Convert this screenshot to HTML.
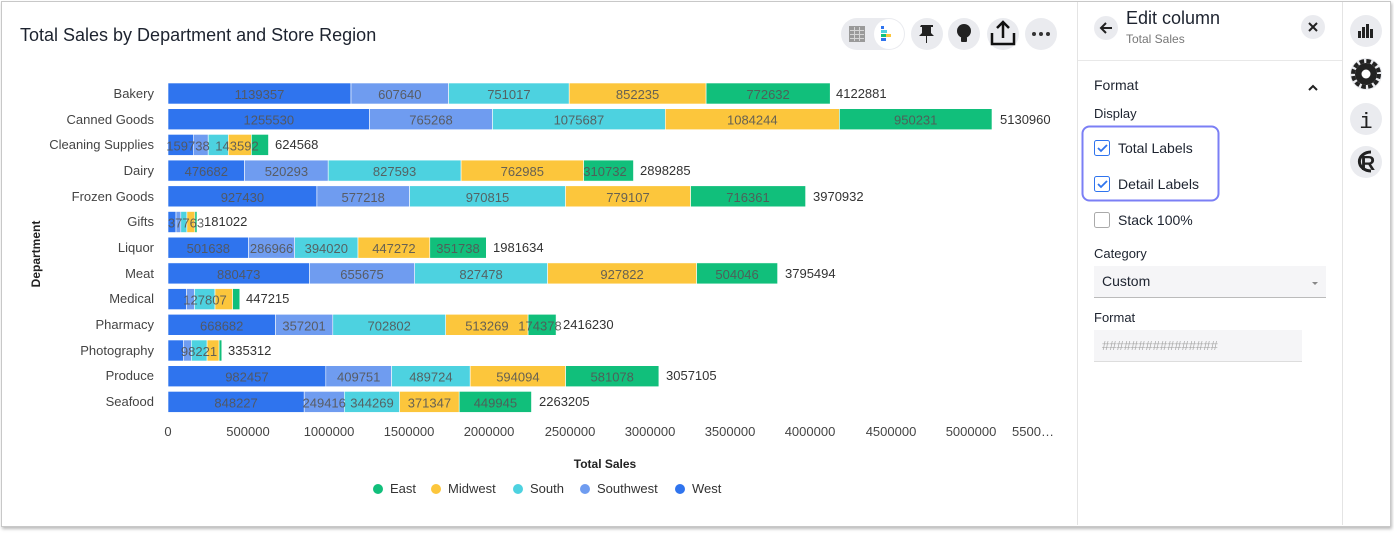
<!DOCTYPE html><html><head><style>
body{margin:0;width:1394px;height:533px;background:#fff;font-family:"Liberation Sans",sans-serif;overflow:hidden;position:relative}
.frame{position:absolute;left:1px;top:1px;width:1388px;height:524px;border:1px solid #c8c8c8;box-shadow:1px 2px 3px #bbb;background:#fff}
.a{position:absolute}
</style></head><body><div class="frame"></div>
<svg class="a" style="left:0;top:0" width="1394" height="533" font-family="Liberation Sans, sans-serif">
<text x="20" y="41" font-size="18" fill="#1d232f">Total Sales by Department and Store Region</text>
<rect x="841" y="18" width="64" height="32" rx="16" fill="#eaebef"/>
<circle cx="889" cy="34" r="15" fill="#fff"/>
<rect x="849" y="26" width="16" height="16" fill="#9a9a9a"/>
<g fill="#d6d6d6"><rect x="850" y="30" width="14" height="1"/><rect x="850" y="34" width="14" height="1"/><rect x="850" y="38" width="14" height="1"/><rect x="854" y="27" width="1" height="14"/><rect x="859" y="27" width="1" height="14"/></g>
<rect x="881" y="26" width="3" height="3" fill="#2f74ee"/><rect x="881" y="30" width="6" height="3" fill="#4dd2e0"/><rect x="881" y="34" width="9" height="3" fill="#11bf7b"/><rect x="881" y="38" width="5" height="3" fill="#2f74ee"/><rect x="886" y="34" width="5" height="3" fill="#fcc63c"/>
<circle cx="927" cy="34" r="16" fill="#eaebef"/><path d="M921 25h12v2h-2v6l3 3h-7v7h-1v-7h-7l3-3v-6h-2z" fill="#222"/>
<circle cx="964" cy="34" r="16" fill="#eaebef"/><circle cx="964" cy="31" r="7" fill="#222"/><rect x="961" y="37" width="6" height="5" rx="1" fill="#222"/>
<circle cx="1003" cy="34" r="16" fill="#eaebef"/><path d="M992 33v11h22v-11M1003 22v16M997 28l6-6 6 6" stroke="#111" stroke-width="2.5" fill="none"/>
<circle cx="1041" cy="34" r="16" fill="#eaebef"/><g fill="#333"><circle cx="1034" cy="34" r="2"/><circle cx="1041" cy="34" r="2"/><circle cx="1048" cy="34" r="2"/></g>
<g font-size="13" fill="#444" text-anchor="end">
<text x="154" y="98">Bakery</text><text x="154" y="124">Canned Goods</text><text x="154" y="149">Cleaning Supplies</text><text x="154" y="175">Dairy</text><text x="154" y="201">Frozen Goods</text><text x="154" y="226">Gifts</text><text x="154" y="252">Liquor</text><text x="154" y="278">Meat</text><text x="154" y="303">Medical</text><text x="154" y="329">Pharmacy</text><text x="154" y="355">Photography</text><text x="154" y="380">Produce</text><text x="154" y="406">Seafood</text>
</g>
<text transform="translate(40,254) rotate(-90)" font-size="12" font-weight="bold" fill="#222" text-anchor="middle">Department</text>
<g stroke="#fff" stroke-width="0.6">
<rect x="168" y="83" width="183" height="21" fill="#2f74ee"/><rect x="351" y="83" width="97.6" height="21" fill="#6f9cf0"/><rect x="448.6" y="83" width="120.6" height="21" fill="#4dd2e0"/><rect x="569.2" y="83" width="136.9" height="21" fill="#fcc63c"/><rect x="706.1" y="83" width="124.1" height="21" fill="#11bf7b"/>
<rect x="168" y="108.7" width="201.6" height="21" fill="#2f74ee"/><rect x="369.6" y="108.7" width="122.9" height="21" fill="#6f9cf0"/><rect x="492.5" y="108.7" width="172.8" height="21" fill="#4dd2e0"/><rect x="665.3" y="108.7" width="174.1" height="21" fill="#fcc63c"/><rect x="839.4" y="108.7" width="152.6" height="21" fill="#11bf7b"/>
<rect x="168" y="134.4" width="25.7" height="21" fill="#2f74ee"/><rect x="193.7" y="134.4" width="14.5" height="21" fill="#6f9cf0"/><rect x="208.2" y="134.4" width="20.1" height="21" fill="#4dd2e0"/><rect x="228.3" y="134.4" width="23.1" height="21" fill="#fcc63c"/><rect x="251.4" y="134.4" width="17.1" height="21" fill="#11bf7b"/>
<rect x="168" y="160.1" width="76.6" height="21" fill="#2f74ee"/><rect x="244.6" y="160.1" width="83.6" height="21" fill="#6f9cf0"/><rect x="328.2" y="160.1" width="132.9" height="21" fill="#4dd2e0"/><rect x="461.1" y="160.1" width="122.5" height="21" fill="#fcc63c"/><rect x="583.6" y="160.1" width="49.9" height="21" fill="#11bf7b"/>
<rect x="168" y="185.8" width="148.9" height="21" fill="#2f74ee"/><rect x="316.9" y="185.8" width="92.7" height="21" fill="#6f9cf0"/><rect x="409.6" y="185.8" width="155.9" height="21" fill="#4dd2e0"/><rect x="565.5" y="185.8" width="125.1" height="21" fill="#fcc63c"/><rect x="690.6" y="185.8" width="115" height="21" fill="#11bf7b"/>
<rect x="168" y="211.5" width="8" height="21" fill="#2f74ee"/><rect x="176" y="211.5" width="4.8" height="21" fill="#6f9cf0"/><rect x="180.8" y="211.5" width="6.1" height="21" fill="#4dd2e0"/><rect x="186.9" y="211.5" width="8" height="21" fill="#fcc63c"/><rect x="194.9" y="211.5" width="2.1" height="21" fill="#11bf7b"/>
<rect x="168" y="237.2" width="80.6" height="21" fill="#2f74ee"/><rect x="248.6" y="237.2" width="46.1" height="21" fill="#6f9cf0"/><rect x="294.7" y="237.2" width="63.3" height="21" fill="#4dd2e0"/><rect x="358" y="237.2" width="71.8" height="21" fill="#fcc63c"/><rect x="429.8" y="237.2" width="56.5" height="21" fill="#11bf7b"/>
<rect x="168" y="262.9" width="141.4" height="21" fill="#2f74ee"/><rect x="309.4" y="262.9" width="105.3" height="21" fill="#6f9cf0"/><rect x="414.7" y="262.9" width="132.9" height="21" fill="#4dd2e0"/><rect x="547.6" y="262.9" width="149" height="21" fill="#fcc63c"/><rect x="696.6" y="262.9" width="81" height="21" fill="#11bf7b"/>
<rect x="168" y="288.6" width="18.5" height="21" fill="#2f74ee"/><rect x="186.5" y="288.6" width="8" height="21" fill="#6f9cf0"/><rect x="194.5" y="288.6" width="20.5" height="21" fill="#4dd2e0"/><rect x="215" y="288.6" width="17.7" height="21" fill="#fcc63c"/><rect x="232.7" y="288.6" width="7.1" height="21" fill="#11bf7b"/>
<rect x="168" y="314.3" width="107.4" height="21" fill="#2f74ee"/><rect x="275.4" y="314.3" width="57.4" height="21" fill="#6f9cf0"/><rect x="332.8" y="314.3" width="112.9" height="21" fill="#4dd2e0"/><rect x="445.7" y="314.3" width="82.4" height="21" fill="#fcc63c"/><rect x="528.1" y="314.3" width="28" height="21" fill="#11bf7b"/>
<rect x="168" y="340" width="15.3" height="21" fill="#2f74ee"/><rect x="183.3" y="340" width="8" height="21" fill="#6f9cf0"/><rect x="191.3" y="340" width="15.8" height="21" fill="#4dd2e0"/><rect x="207.1" y="340" width="12" height="21" fill="#fcc63c"/><rect x="219.1" y="340" width="2.7" height="21" fill="#11bf7b"/>
<rect x="168" y="365.7" width="157.8" height="21" fill="#2f74ee"/><rect x="325.8" y="365.7" width="65.8" height="21" fill="#6f9cf0"/><rect x="391.6" y="365.7" width="78.6" height="21" fill="#4dd2e0"/><rect x="470.2" y="365.7" width="95.4" height="21" fill="#fcc63c"/><rect x="565.6" y="365.7" width="93.3" height="21" fill="#11bf7b"/>
<rect x="168" y="391.4" width="136.2" height="21" fill="#2f74ee"/><rect x="304.2" y="391.4" width="40.1" height="21" fill="#6f9cf0"/><rect x="344.3" y="391.4" width="55.3" height="21" fill="#4dd2e0"/><rect x="399.6" y="391.4" width="59.6" height="21" fill="#fcc63c"/><rect x="459.2" y="391.4" width="72.3" height="21" fill="#11bf7b"/>
</g>
<g font-size="13" fill="#555" fill-opacity="0.9" text-anchor="middle">
<text x="259.5" y="99">1139357</text><text x="399.8" y="99">607640</text><text x="508.9" y="99">751017</text><text x="637.6" y="99">852235</text><text x="768.1" y="99">772632</text>
<text x="268.8" y="124.7">1255530</text><text x="431" y="124.7">765268</text><text x="578.9" y="124.7">1075687</text><text x="752.3" y="124.7">1084244</text><text x="915.7" y="124.7">950231</text>
<text x="188" y="150.4">159738</text><text x="237" y="150.4">143592</text>
<text x="206.3" y="176.1">476682</text><text x="286.4" y="176.1">520293</text><text x="394.6" y="176.1">827593</text><text x="522.3" y="176.1">762985</text><text x="605" y="176.1">310732</text>
<text x="242.4" y="201.8">927430</text><text x="363.2" y="201.8">577218</text><text x="487.5" y="201.8">970815</text><text x="628" y="201.8">779107</text><text x="748" y="201.8">716361</text>
<text x="186" y="227.5">37763</text>
<text x="208.3" y="253.2">501638</text><text x="271.6" y="253.2">286966</text><text x="326.3" y="253.2">394020</text><text x="393.9" y="253.2">447272</text><text x="458" y="253.2">351738</text>
<text x="238.7" y="278.9">880473</text><text x="362" y="278.9">655675</text><text x="481.1" y="278.9">827478</text><text x="622.1" y="278.9">927822</text><text x="737.1" y="278.9">504046</text>
<text x="205" y="304.6">127807</text>
<text x="221.7" y="330.3">668682</text><text x="304.1" y="330.3">357201</text><text x="389.2" y="330.3">702802</text><text x="486.9" y="330.3">513269</text><text x="540" y="330.3">174378</text>
<text x="199" y="356">98221</text>
<text x="246.9" y="381.7">982457</text><text x="358.7" y="381.7">409751</text><text x="430.9" y="381.7">489724</text><text x="517.9" y="381.7">594094</text><text x="612.2" y="381.7">581078</text>
<text x="236.1" y="407.4">848227</text><text x="324.2" y="407.4">249416</text><text x="372" y="407.4">344269</text><text x="429.4" y="407.4">371347</text><text x="495.4" y="407.4">449945</text>
</g>
<g font-size="13" fill="#333">
<text x="836" y="98">4122881</text><text x="1000" y="124">5130960</text><text x="275" y="149">624568</text><text x="640" y="175">2898285</text><text x="813" y="201">3970932</text><text x="204" y="226">181022</text><text x="493" y="252">1981634</text><text x="785" y="278">3795494</text><text x="246" y="303">447215</text><text x="563" y="329">2416230</text><text x="228" y="355">335312</text><text x="666" y="380">3057105</text><text x="539" y="406">2263205</text>
</g>
<g font-size="13" fill="#444" text-anchor="middle">
<text x="168" y="436">0</text><text x="248" y="436">500000</text><text x="329" y="436">1000000</text><text x="409" y="436">1500000</text><text x="489" y="436">2000000</text><text x="570" y="436">2500000</text><text x="650" y="436">3000000</text><text x="730" y="436">3500000</text><text x="810" y="436">4000000</text><text x="891" y="436">4500000</text><text x="971" y="436">5000000</text><text x="1033" y="436">5500…</text>
</g>
<text x="605" y="468" font-size="12" font-weight="bold" fill="#222" text-anchor="middle">Total Sales</text>
<g font-size="13" fill="#333">
<circle cx="378" cy="489" r="5" fill="#11bf7b"/><text x="390" y="493">East</text>
<circle cx="436" cy="489" r="5" fill="#fcc63c"/><text x="448" y="493">Midwest</text>
<circle cx="518" cy="489" r="5" fill="#4dd2e0"/><text x="530" y="493">South</text>
<circle cx="585" cy="489" r="5" fill="#6f9cf0"/><text x="597" y="493">Southwest</text>
<circle cx="680" cy="489" r="5" fill="#2f74ee"/><text x="692" y="493">West</text>
</g>
<line x1="1077.5" y1="2" x2="1077.5" y2="525" stroke="#e4e4e4"/>
<line x1="1342.5" y1="2" x2="1342.5" y2="525" stroke="#e4e4e4"/>
<line x1="1078" y1="60.5" x2="1342" y2="60.5" stroke="#e8e8e8"/>
<circle cx="1106" cy="28" r="12" fill="#eaebef"/><path d="M1112 28h-11M1106 23l-5 5 5 5" stroke="#222" stroke-width="2" fill="none"/>
<text x="1126" y="24" font-size="18" fill="#1d232f">Edit column</text>
<text x="1126" y="43" font-size="12" fill="#777">Total Sales</text>
<circle cx="1313" cy="27" r="12" fill="#eaebef"/><path d="M1309 23l8 8M1317 23l-8 8" stroke="#222" stroke-width="2"/>
<text x="1094" y="90" font-size="14" fill="#1d232f">Format</text>
<path d="M1309 90l4-4 4 4" stroke="#222" stroke-width="2" fill="none"/>
<text x="1094" y="118" font-size="13" fill="#1d232f">Display</text>
<rect x="1082.5" y="126.5" width="136" height="74" rx="7" fill="#fff" stroke="#7b7ff5" stroke-width="2"/>
<rect x="1094.5" y="140.5" width="15" height="15" rx="2" fill="#fff" stroke="#2f74ee"/><path d="M1098 148l3 3 6-6" stroke="#2f74ee" stroke-width="1.8" fill="none"/>
<text x="1118" y="153" font-size="14" fill="#1d232f">Total Labels</text>
<rect x="1094.5" y="176.5" width="15" height="15" rx="2" fill="#fff" stroke="#2f74ee"/><path d="M1098 184l3 3 6-6" stroke="#2f74ee" stroke-width="1.8" fill="none"/>
<text x="1118" y="189" font-size="14" fill="#1d232f">Detail Labels</text>
<rect x="1094.5" y="212.5" width="15" height="15" rx="2" fill="#fff" stroke="#aaa"/>
<text x="1118" y="225" font-size="14" fill="#1d232f">Stack 100%</text>
<text x="1094" y="258" font-size="13" fill="#1d232f">Category</text>
<rect x="1094" y="266" width="232" height="31" fill="#f5f5f7"/><line x1="1094" y1="297.5" x2="1326" y2="297.5" stroke="#bbb"/>
<text x="1102" y="286" font-size="14" fill="#1d232f">Custom</text>
<path d="M1312 282h6l-3 3z" fill="#888"/>
<text x="1094" y="322" font-size="13" fill="#1d232f">Format</text>
<rect x="1094" y="330" width="208" height="31" fill="#f5f5f7"/><line x1="1094" y1="361.5" x2="1302" y2="361.5" stroke="#ddd"/>
<text x="1102" y="350" font-size="13" fill="#aaa">################</text>
<circle cx="1366" cy="31" r="16" fill="#eaebef"/><g fill="#222"><rect x="1358" y="31" width="3" height="7"/><rect x="1362" y="27" width="3" height="11"/><rect x="1366" y="24" width="3" height="14"/><rect x="1370" y="29" width="3" height="9"/></g>
<circle cx="1366" cy="74" r="16" fill="#eaebef"/><circle cx="1366" cy="74" r="13" fill="none" stroke="#222" stroke-width="4" stroke-dasharray="4.5 2.3"/><circle cx="1366" cy="74" r="11" fill="#222"/><circle cx="1366" cy="74" r="4.5" fill="#fff"/>
<circle cx="1366" cy="119" r="16" fill="#eaebef"/><text x="1366" y="128" font-size="22" fill="#222" text-anchor="middle" font-family="Liberation Mono, monospace">i</text>
<circle cx="1366" cy="162" r="16" fill="#eaebef"/><text x="1368" y="170" font-size="20" font-weight="bold" fill="#222" text-anchor="middle">R</text><path d="M1371 152a11 9 0 1 0 0 19" stroke="#222" stroke-width="3" fill="none"/>
</svg>
</body></html>
